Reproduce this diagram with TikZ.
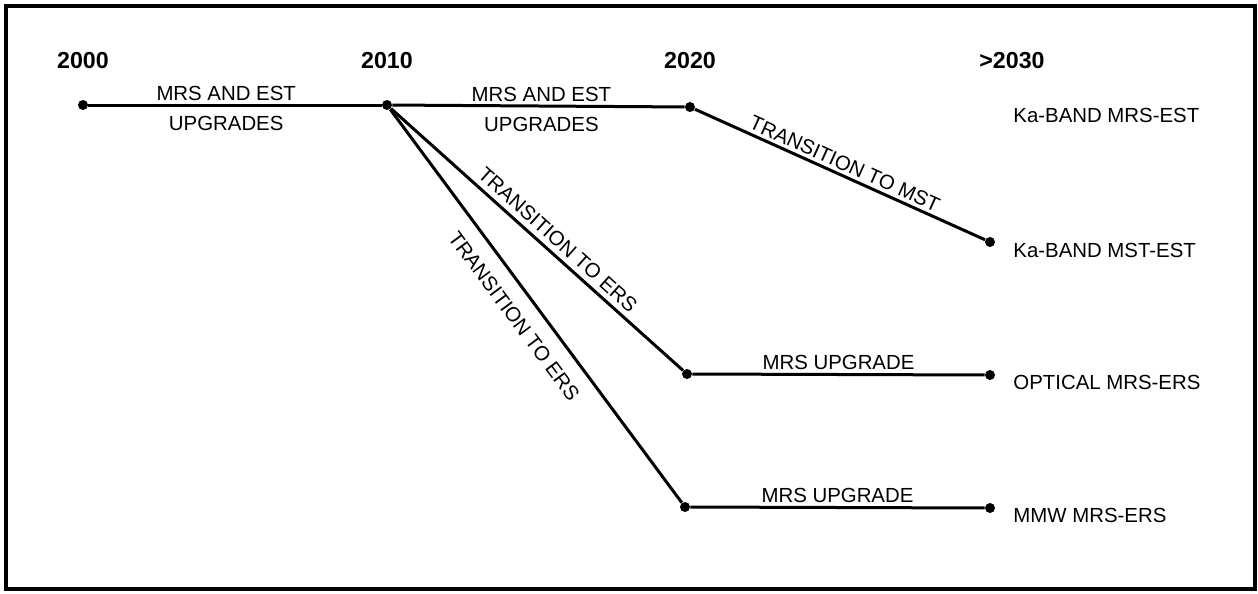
\documentclass[tikz,border=0pt]{standalone}
\usepackage{fontspec}
\setmainfont{Liberation Sans}
\usepackage{tikz}
\usetikzlibrary{positioning}

\begin{document}
\begin{tikzpicture}[x=0.5pt,y=-0.5pt,
  dot/.style={circle,fill,inner sep=0pt,minimum size=5pt},
  track/.style={line width=1.5pt},
  year/.style={font=\fontsize{11.6}{13}\selectfont\bfseries,inner sep=0pt},
  lbl/.style={font=\fontsize{10.2}{12}\selectfont,inner sep=0pt},
  endlbl/.style={lbl,anchor=west}]
  \useasboundingbox (0,0) rectangle (1258,594);
  \draw[line width=2.2pt] (6,6) rectangle (1255,589);

  % years along the top
  \foreach \x/\t [count=\i] in {83/2000,387/2010,690/2020,1012/{>2030}} {
    \node[year] (year\i) at (\x,60.5) {\t};
  }

  % milestones
  \node[dot] (d2000) at (83,105) {};
  \node[dot] (d2010) at (387,105) {};
  \node[dot] (d2020) at (690,107) {};
  \node[dot] (mst) at (990,242) {};
  \node[dot] (opt0) at (687,374) {};
  \node[dot] (opt1) at (990,375) {};
  \node[dot] (mmw0) at (685,507) {};
  \node[dot] (mmw1) at (990,508) {};

  \draw[track] (d2000) -- node[lbl,pos=0.47,above=1.5pt] {MRS AND EST}
    node[lbl,pos=0.47,below=5pt] {UPGRADES} (d2010);
  \draw[track] (d2010) -- node[lbl,pos=0.51,above=1.5pt] {MRS AND EST}
    node[lbl,pos=0.51,below=5pt] {UPGRADES} (d2020);
  \draw[track] (d2020) -- node[lbl,sloped,above=1.5pt] {TRANSITION TO MST} (mst);
  \draw[track] (d2010) -- node[lbl,sloped,pos=0.54,above=2.5pt] {TRANSITION TO ERS} (opt0);
  \draw[track] (d2010) -- node[lbl,sloped,pos=0.49,below=7.5pt] {TRANSITION TO ERS} (mmw0);
  \draw[track] (opt0) -- node[lbl,above=1.5pt] {MRS UPGRADE} (opt1);
  \draw[track] (mmw0) -- node[lbl,above=1.5pt] {MRS UPGRADE} (mmw1);

  % end states
  \node[endlbl] (mrsest) at (1013,115.5) {Ka-BAND MRS-EST};
  \node[endlbl] (mstest) at (1013,250) {Ka-BAND MST-EST};
  \node[endlbl] (opters) at (1013,382) {OPTICAL MRS-ERS};
  \node[endlbl] (mmwers) at (1013,515) {MMW MRS-ERS};
\end{tikzpicture}
\end{document}
